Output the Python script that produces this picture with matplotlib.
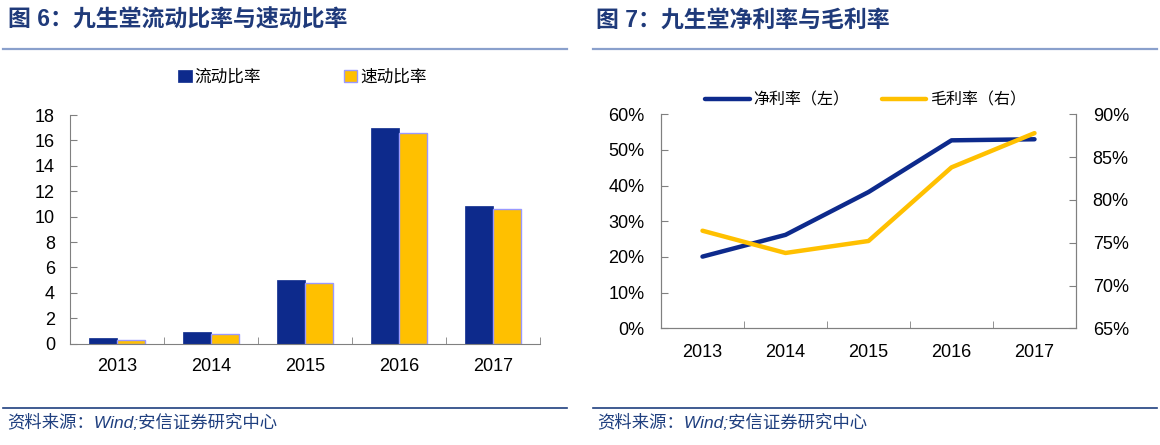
import matplotlib
matplotlib.use('Agg')
import matplotlib.pyplot as plt
import numpy as np
from matplotlib.lines import Line2D
from matplotlib.ticker import FuncFormatter

plt.rcParams['font.family'] = ['Liberation Sans', 'Noto Sans CJK SC', 'DejaVu Sans']

# 数据
years = ['2013', '2014', '2015', '2016', '2017']
current_ratio = [0.42, 0.95, 5.0, 16.95, 10.84]
quick_ratio = [0.28, 0.75, 4.75, 16.56, 10.58]
net_margin = [20.1, 26.2, 38.2, 52.7, 53.0]
gross_margin = [76.4, 73.8, 75.2, 83.8, 87.8]

navy = '#0D2A8C'
gold = '#FFC000'
title_c = '#1F3A7A'
axis_c = '#808080'

fig = plt.figure(figsize=(11.6, 4.45), dpi=100)

# 标题与分隔线
fig.text(8 / 1160, 1 - 20 / 445, '图 6：九生堂流动比率与速动比率', fontsize=16.5,
         fontweight='bold', color=title_c, va='center', ha='left')
fig.text(596 / 1160, 1 - 20 / 445, '图 7：九生堂净利率与毛利率', fontsize=16.5,
         fontweight='bold', color=title_c, va='center', ha='left')
for x0, x1 in [(3, 567), (593, 1157)]:
    fig.add_artist(Line2D([x0 / 1160, x1 / 1160], [1 - 48.5 / 445] * 2, color='#8AA0CC', lw=1.6))
    fig.add_artist(Line2D([x0 / 1160, x1 / 1160], [1 - 407.5 / 445] * 2, color='#1F3F7F', lw=1.2))
    fig.text((x0 + 4) / 1160, 1 - 422 / 445, '资料来源：Wind;安信证券研究中心', fontsize=12.5,
             style='italic', color='#1F3F7F', va='center', ha='left')

# 左图：流动比率与速动比率
ax1 = fig.add_axes([70.3 / 1160, 1 - 343.7 / 445, 469.7 / 1160, 228.7 / 445])
x = np.arange(len(years))
w = 0.3
ax1.bar(x - w / 2, current_ratio, w, color=navy, edgecolor=navy, lw=0.5, label='流动比率')
ax1.bar(x + w / 2, quick_ratio, w, color=gold, edgecolor='#9999FF', lw=1.0, label='速动比率')
ax1.set_xlim(-0.5, 4.5)
ax1.set_ylim(0, 18)
ax1.set_yticks(range(0, 19, 2))
ax1.set_xticks(x)
ax1.set_xticklabels(years)
ax1.set_xticks(np.arange(0.5, 4.6, 1), minor=True)
ax1.tick_params(axis='x', which='major', length=0, pad=10, labelsize=13)
ax1.tick_params(axis='x', which='minor', direction='in', length=5, color=axis_c)
ax1.tick_params(axis='y', direction='in', length=5, color=axis_c, pad=11, labelsize=13)
for s in ['top', 'right']:
    ax1.spines[s].set_visible(False)
for s in ['left', 'bottom']:
    ax1.spines[s].set_color(axis_c)
ax1.legend(ncol=2, loc='center', bbox_to_anchor=(0.494, 1.166), frameon=False,
           fontsize=12, handlelength=0.8, handleheight=0.8, handletextpad=0.15,
           columnspacing=5.0)

# 右图：净利率与毛利率
ax2 = fig.add_axes([661 / 1160, 1 - 328.3 / 445, 415 / 1160, 214 / 445])
ax3 = ax2.twinx()
l1, = ax2.plot(x, net_margin, color=navy, lw=3.2, solid_capstyle='round', label='净利率（左）')
l2, = ax3.plot(x, gross_margin, color=gold, lw=3.2, solid_capstyle='round', label='毛利率（右）')
ax2.set_xlim(-0.5, 4.5)
ax2.set_ylim(0, 60)
ax3.set_ylim(65, 90)
ax2.set_yticks(range(0, 61, 10))
ax3.set_yticks(range(65, 91, 5))
pct = FuncFormatter(lambda v, p: f'{v:.0f}%')
ax2.yaxis.set_major_formatter(pct)
ax3.yaxis.set_major_formatter(pct)
ax2.set_xticks(x)
ax2.set_xticklabels(years)
ax2.set_xticks(np.arange(0.5, 4.6, 1), minor=True)
ax2.tick_params(axis='x', which='major', length=0, pad=11, labelsize=13)
ax2.tick_params(axis='x', which='minor', direction='in', length=5, color=axis_c)
ax2.tick_params(axis='y', direction='in', length=5, color=axis_c, pad=12, labelsize=13)
ax3.tick_params(axis='y', direction='in', length=5, color=axis_c, pad=12, labelsize=13)
for a in (ax2, ax3):
    a.spines['top'].set_visible(False)
    for s in ['left', 'right', 'bottom']:
        a.spines[s].set_color(axis_c)
ax2.legend(handles=[l1, l2], ncol=2, loc='center', bbox_to_anchor=(0.493, 1.067),
           frameon=False, fontsize=11.5, handlelength=2.8, handletextpad=0.25,
           columnspacing=2.0)

fig.savefig('out.png', dpi=100)
